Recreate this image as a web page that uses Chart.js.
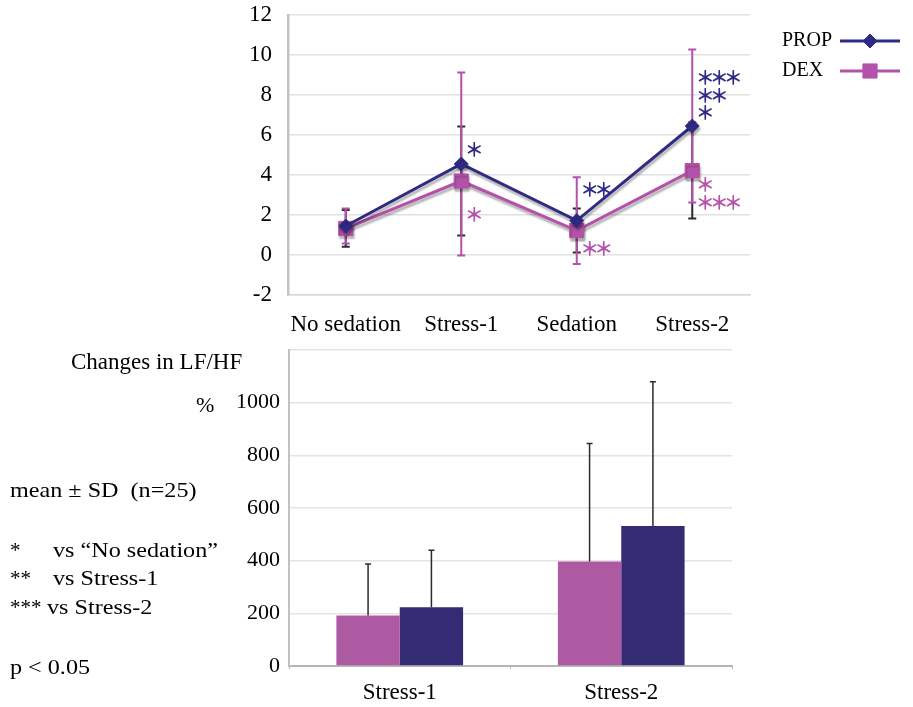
<!DOCTYPE html>
<html>
<head>
<meta charset="utf-8">
<script src="https://cdn.jsdelivr.net/npm/chart.js@4.4.1/dist/chart.umd.min.js"></script>
<style>
  body { margin: 0; background: #fff; }
  #page { position: relative; width: 913px; height: 707px; font-family: "Liberation Serif", "Times New Roman", serif; color: #000; }
  #page canvas { position: absolute; left: 0; }
  .note { position: absolute; font-size: 21px; line-height: 1; white-space: pre; }
  .wide { transform: scaleX(1.15); transform-origin: left center; }
</style>
</head>
<body>
<div id="page">
  <canvas id="chart-line" width="913" height="340" style="top:0"></canvas>
  <canvas id="chart-bar" width="913" height="367" style="top:340px"></canvas>

  <div class="note" style="left:71px;top:350px;font-size:23px">Changes in LF/HF</div>
  <div class="note" style="left:196px;top:394px;font-size:22px">%</div>
  <div class="note wide" style="left:10px;top:480px">mean ± SD  (n=25)</div>
  <div class="note" style="left:10px;top:540px">*</div>
  <div class="note wide" style="left:53px;top:540px">vs “No sedation”</div>
  <div class="note" style="left:10px;top:568px">**</div>
  <div class="note wide" style="left:53px;top:568px">vs Stress-1</div>
  <div class="note" style="left:10px;top:597px">***</div>
  <div class="note wide" style="left:47px;top:597px">vs Stress-2</div>
  <div class="note wide" style="left:10px;top:657px">p &lt; 0.05</div>
</div>

<script>
// LF/HF over the four stages (mean, SD)
const stages = ['No sedation', 'Stress-1', 'Sedation', 'Stress-2'];
const propMean = [1.45, 4.55, 1.72, 6.45];
const propSD = [0.87, 4.57, 2.17, 3.82];
const dexMean = [1.33, 3.7, 1.22, 4.22];
const dexSD = [0.92, 2.73, 1.1, 2.4];
const lfhfTicks = [-2, 0, 2, 4, 6, 8, 10, 12];

// % change of LF/HF under stress
const stressLabels = ['Stress-1', 'Stress-2'];
const propChange = [223, 532];
const propChangeSD = [217, 547];
const dexChange = [192, 397];
const dexChangeSD = [195, 448];
const changeTicks = [0, 200, 400, 600, 800, 1000, 1200];

// significance marks: stage index, LF/HF level, stars, group
const sigMarks = [
  [1, 5.25, '*', 'PROP'],
  [1, 2.0, '*', 'DEX'],
  [2, 3.25, '**', 'PROP'],
  [2, 0.3, '**', 'DEX'],
  [3, 8.85, '***', 'PROP'],
  [3, 7.95, '**', 'PROP'],
  [3, 7.1, '*', 'PROP'],
  [3, 3.5, '*', 'DEX'],
  [3, 2.6, '***', 'DEX'],
];

const NAVY = '#2f2a84';
const PINK = '#b452aa';
const NAVY_BAR = '#332b74';
const PINK_BAR = '#ad5aa3';
const SERIF = '"Liberation Serif", "Times New Roman", serif';

Chart.defaults.font.family = SERIF;
Chart.defaults.color = '#000';

// keep the plot edges where the layout padding puts them
function fixWidth(w) {
  return s => { s.width = w; s.paddingTop = 0; s.paddingBottom = 0; };
}

const errorBars = {
  id: 'errorBars',
  draw(chart, opts) {
    const ctx = chart.ctx;
    const y = chart.scales.y;
    for (let i = chart.data.datasets.length - 1; i >= 0; i--) {
      const ds = chart.data.datasets[i];
      if (!ds.errors) continue;
      const meta = chart.getDatasetMeta(i);
      ctx.save();
      ctx.strokeStyle = ds.errorColor;
      ctx.lineWidth = opts.width;
      meta.data.forEach((el, j) => {
        const v = ds.data[j], e = ds.errors[j];
        const top = y.getPixelForValue(v + e);
        const bot = opts.both ? y.getPixelForValue(v - e) : y.getPixelForValue(v);
        ctx.beginPath();
        ctx.moveTo(el.x, top);
        ctx.lineTo(el.x, bot);
        ctx.moveTo(el.x - opts.cap, top);
        ctx.lineTo(el.x + opts.cap, top);
        if (opts.both) {
          ctx.moveTo(el.x - opts.cap, bot);
          ctx.lineTo(el.x + opts.cap, bot);
        }
        ctx.stroke();
      });
      ctx.restore();
    }
  },
  beforeDatasetsDraw(chart, args, opts) { if (!opts.above) this.draw(chart, opts); },
  afterDatasetsDraw(chart, args, opts) { if (opts.above) this.draw(chart, opts); },
};

// soft grey drop shadow under the lines
const lineShadow = {
  id: 'lineShadow',
  beforeDatasetDraw(chart) {
    const c = chart.ctx;
    c.save();
    c.shadowColor = 'rgba(0,0,0,0.3)';
    c.shadowOffsetX = 1;
    c.shadowOffsetY = 3;
    c.shadowBlur = 2;
  },
  afterDatasetDraw(chart) { chart.ctx.restore(); },
};

const sideLegend = {
  id: 'sideLegend',
  afterDraw(chart, args, opts) {
    const ctx = chart.ctx;
    ctx.save();
    ctx.font = opts.font;
    ctx.textBaseline = 'middle';
    opts.order.forEach((idx, k) => {
      const ds = chart.data.datasets[idx];
      const y = opts.top + k * opts.gap;
      ctx.fillStyle = '#000';
      ctx.fillText(ds.label, opts.textX, y);
      if (opts.kind === 'line') {
        ctx.strokeStyle = ds.borderColor;
        ctx.lineWidth = 3;
        ctx.beginPath();
        ctx.moveTo(opts.markX, y);
        ctx.lineTo(opts.markX + opts.markW, y);
        ctx.stroke();
        ctx.fillStyle = ds.backgroundColor;
        ctx.lineWidth = 1;
        Chart.helpers.drawPoint(ctx, { pointStyle: ds.pointStyle, radius: ds.pointRadius, rotation: 0, borderWidth: 1 }, opts.markX + opts.markW / 2, y);
      } else {
        ctx.fillStyle = ds.backgroundColor;
        ctx.fillRect(opts.markX, y - opts.markH / 2, opts.markW, opts.markH);
      }
    });
    ctx.restore();
  },
};

const starMarks = {
  id: 'starMarks',
  afterDatasetsDraw(chart, args, opts) {
    const ctx = chart.ctx;
    const x = chart.scales.x, y = chart.scales.y;
    ctx.save();
    ctx.font = opts.font;
    ctx.textAlign = 'center';
    ctx.textBaseline = 'middle';
    opts.marks.forEach(([stage, level, stars, group]) => {
      ctx.fillStyle = group === 'PROP' ? NAVY : PINK;
      const x0 = x.getPixelForValue(stage) + opts.dx;
      const yy = y.getPixelForValue(level);
      [...stars].forEach((s, k) => ctx.fillText('＊', x0 + k * opts.step, yy));
    });
    ctx.restore();
  },
};

new Chart(document.getElementById('chart-line'), {
  type: 'line',
  data: {
    labels: stages,
    datasets: [
      { label: 'PROP', data: propMean, errors: propSD, errorColor: PINK,
        borderColor: NAVY, backgroundColor: NAVY, borderWidth: 3,
        pointStyle: 'rectRot', pointRadius: 7, pointBorderWidth: 1 },
      { label: 'DEX', data: dexMean, errors: dexSD, errorColor: '#2b2b2b',
        borderColor: PINK, backgroundColor: PINK, borderWidth: 3,
        pointStyle: 'rect', pointRadius: 10, pointBorderWidth: 1 },
    ],
  },
  plugins: [errorBars, lineShadow, sideLegend, starMarks],
  options: {
    responsive: false,
    animation: false,
    devicePixelRatio: 1,
    layout: { padding: { left: 0, right: 163, top: 15, bottom: 0 } },
    plugins: {
      legend: { display: false },
      tooltip: { enabled: false },
      errorBars: { both: true, width: 2, cap: 4, above: false },
      sideLegend: { kind: 'line', order: [0, 1], font: '20px ' + SERIF, textX: 782, top: 41, gap: 30, markX: 840, markW: 60 },
      starMarks: { marks: sigMarks, font: 'bold 19px "Noto Sans CJK JP"', dx: 13, step: 14 },
    },
    scales: {
      x: {
        offset: true,
        afterFit: s => { s.height = 45; },
        grid: { display: false },
        border: { display: true, color: '#d6d6d6', width: 1.5 },
        ticks: { font: { size: 23 }, padding: 8, maxRotation: 0, autoSkip: false },
      },
      y: {
        min: -2, max: 12,
        afterFit: fixWidth(288),
        afterBuildTicks: s => { s.ticks = lfhfTicks.map(v => ({ value: v })); },
        grid: { color: '#e1e1e1', lineWidth: 1.5, drawTicks: false },
        border: { display: true, color: '#c2c2c2', width: 2.5 },
        ticks: { font: { size: 23 }, padding: 16 },
      },
    },
  },
});

new Chart(document.getElementById('chart-bar'), {
  type: 'bar',
  data: {
    labels: stressLabels,
    datasets: [
      { label: 'DEX', data: dexChange, errors: dexChangeSD, errorColor: '#2b2b2b', backgroundColor: PINK_BAR },
      { label: 'PROP', data: propChange, errors: propChangeSD, errorColor: '#2b2b2b', backgroundColor: NAVY_BAR },
    ],
  },
  plugins: [errorBars, sideLegend],
  options: {
    responsive: false,
    animation: false,
    devicePixelRatio: 1,
    layout: { padding: { left: 0, right: 181, top: 10, bottom: 0 } },
    datasets: { bar: { barPercentage: 1, categoryPercentage: 0.572 } },
    plugins: {
      legend: { display: false },
      tooltip: { enabled: false },
      errorBars: { both: false, width: 1.5, cap: 3, above: true },
      sideLegend: { kind: 'box', order: [1, 0], font: '21px ' + SERIF, textX: 788, top: 401, gap: 40, markX: 852, markW: 61, markH: 23 },
    },
    scales: {
      x: {
        afterFit: s => { s.height = 41; },
        grid: { display: true, drawOnChartArea: false, drawTicks: true, tickLength: 3, color: '#b5b5b5' },
        border: { display: true, color: '#b5b5b5', width: 2 },
        ticks: { font: { size: 23 }, padding: 10, maxRotation: 0 },
      },
      y: {
        min: 0, max: 1200,
        afterFit: fixWidth(289),
        afterBuildTicks: s => { s.ticks = changeTicks.map(v => ({ value: v })); },
        grid: { color: '#e3e3e3', lineWidth: 1.5, drawTicks: false },
        border: { display: true, color: '#c2c2c2', width: 2 },
        ticks: { font: { size: 22 }, padding: 9, callback: v => (v === 1200 ? '' : v) },
      },
    },
  },
});
</script>
</body>
</html>
